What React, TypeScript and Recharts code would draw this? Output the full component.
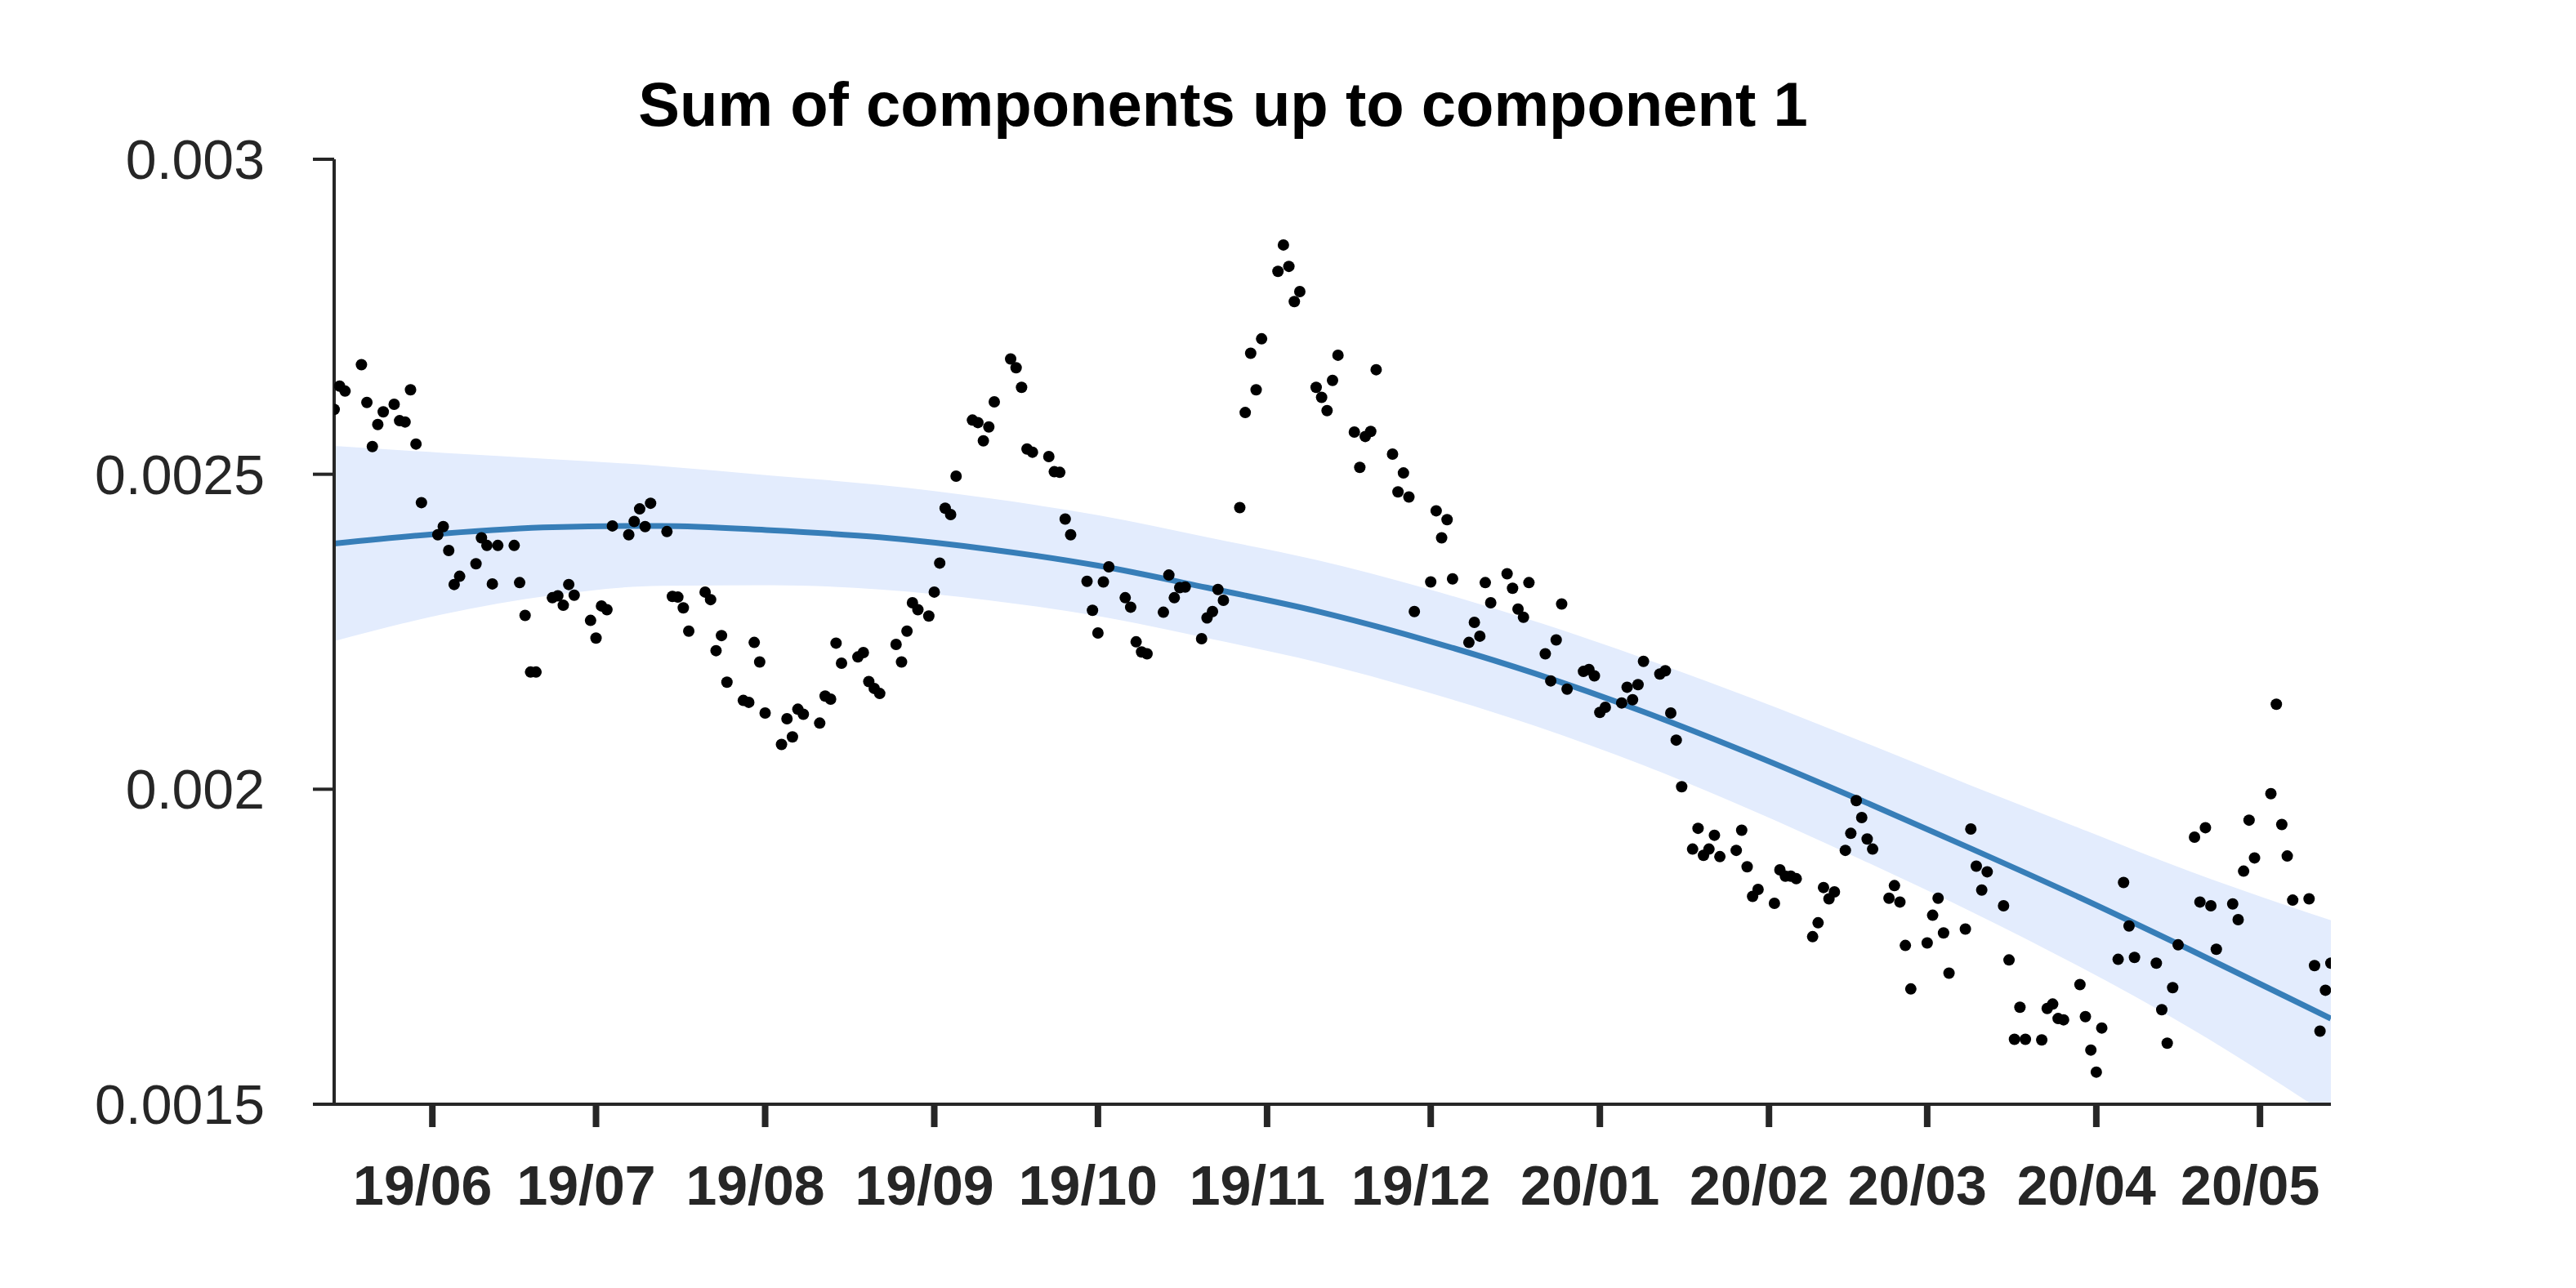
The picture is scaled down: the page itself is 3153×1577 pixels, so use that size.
import React from 'react';
import { ComposedChart, XAxis, YAxis, Area, Line, Scatter } from 'recharts';

const W = 3153;
const H = 1577;

// x = days since 2019-05-14
const monthTickDays = [18, 48, 79, 110, 140, 171, 201, 232, 263, 292, 323, 353];
const monthTickLabels = ['19/06', '19/07', '19/08', '19/09', '19/10', '19/11', '19/12', '20/01', '20/02', '20/03', '20/04', '20/05'];
const yTicks = [0.0015, 0.002, 0.0025, 0.003];

const pointDays = [
  0, 1, 2, 5, 6, 7, 8, 9, 11, 12, 13, 14, 15, 16, 19, 20, 21, 22, 23, 26, 27, 28, 29, 30,
  33, 34, 35, 36, 37, 40, 41, 42, 43, 44, 47, 48, 49, 50, 51, 54, 55, 56, 57, 58, 61,
  62, 63, 64, 65, 68, 69, 70, 71, 72, 75, 76, 77, 78, 79, 82, 83, 84, 85, 86, 89, 90, 91, 92, 93,
  96, 97, 98, 99, 100, 103, 104, 105, 106, 107, 109, 110, 111, 112, 113, 114, 117, 118, 119, 120, 121,
  124, 125, 126, 127, 128, 131, 132, 133, 134, 135, 138, 139, 140, 141, 142, 145, 146, 147, 148, 149,
  152, 153, 154, 155, 156, 159, 160, 161, 162, 163, 166, 167, 168, 169, 170, 173, 174, 175, 176, 177,
  180, 181, 182, 183, 184, 187, 188, 189, 190, 191, 194, 195, 196, 197, 198, 201, 202, 203, 204, 205,
  208, 209, 210, 211, 212, 215, 216, 217, 218, 219, 222, 223, 224, 225, 226, 229, 230, 231, 232, 233,
  236, 237, 238, 239, 240, 243, 244, 245, 246, 247, 249, 250, 251, 252, 253, 254, 257, 258, 259, 260, 261,
  264, 265, 266, 267, 268, 271, 272, 273, 274, 275, 277, 278, 279, 280, 281, 282, 285, 286, 287, 288, 289,
  292, 293, 294, 295, 296, 299, 300, 301, 302, 303, 306, 307, 308, 309, 310, 313, 314, 315, 316, 317,
  320, 321, 322, 323, 324, 327, 328, 329, 330, 334, 335, 336, 337, 338, 341, 342, 343, 344, 345,
  348, 349, 350, 351, 352, 355, 356, 357, 358, 359, 362, 363, 364, 365, 366,
];

const pointValues = [
  0.002603, 0.00264, 0.002632, 0.002674, 0.002614, 0.002544, 0.002579, 0.002599, 0.002611, 0.002585, 0.002583, 0.002634, 0.002548, 0.002455,
  0.002404, 0.002417, 0.002379, 0.002325, 0.002338, 0.002358, 0.002399, 0.002387, 0.002326, 0.002387,
  0.002387, 0.002328, 0.002276, 0.002186, 0.002186, 0.002304, 0.002307, 0.002292, 0.002325, 0.002308,
  0.002268, 0.00224, 0.002291, 0.002285, 0.002418, 0.002404, 0.002425, 0.002445, 0.002417, 0.002454, 0.002409,
  0.002306, 0.002305, 0.002288, 0.002251, 0.002313, 0.002301, 0.00222, 0.002244, 0.00217,
  0.002141, 0.002138, 0.002233, 0.002202, 0.002121, 0.002071, 0.002112, 0.002083, 0.002127, 0.002119,
  0.002105, 0.002148, 0.002143, 0.002232, 0.0022,
  0.00221, 0.002217, 0.002171, 0.00216, 0.002152, 0.00223, 0.002202, 0.002251, 0.002296, 0.002285,
  0.002275, 0.002313, 0.002359, 0.002446, 0.002436, 0.002497, 0.002586, 0.002582, 0.002553, 0.002575, 0.002615,
  0.002683, 0.002669, 0.002638, 0.00254, 0.002535, 0.002528, 0.002504, 0.002503, 0.002429, 0.002404,
  0.00233, 0.002284, 0.002248, 0.002329, 0.002353, 0.002304, 0.002289, 0.002234, 0.002218, 0.002215,
  0.002281, 0.00234, 0.002304, 0.00232, 0.002321, 0.002239, 0.002272, 0.002282, 0.002317, 0.0023,
  0.002447, 0.002598, 0.002692, 0.002634, 0.002715, 0.002822, 0.002864, 0.00283, 0.002774, 0.00279,
  0.002638, 0.002622, 0.002601, 0.002649, 0.002689, 0.002567, 0.002511, 0.00256, 0.002568, 0.002666,
  0.002532, 0.002472, 0.002502, 0.002464, 0.002282, 0.002329, 0.002442, 0.002399, 0.002428, 0.002334,
  0.002233, 0.002265, 0.002243, 0.002328, 0.002296, 0.002342, 0.002319, 0.002286, 0.002273, 0.002328,
  0.002215, 0.002172, 0.002237, 0.002294, 0.002159, 0.002187, 0.00219, 0.00218, 0.002122, 0.00213,
  0.002137, 0.002162, 0.002142, 0.002166, 0.002203, 0.002183, 0.002188, 0.002121, 0.002078, 0.002004,
  0.001905, 0.001938, 0.001895, 0.001905, 0.001927, 0.001893, 0.001903, 0.001935, 0.001877, 0.00183, 0.001841,
  0.001819, 0.001872, 0.001862, 0.001862, 0.001858, 0.001766, 0.001788, 0.001844, 0.001826, 0.001837,
  0.001903, 0.00193, 0.001982, 0.001955, 0.001921, 0.001905, 0.001827, 0.001847, 0.001821, 0.001752, 0.001683,
  0.001756, 0.0018, 0.001827, 0.001772, 0.001708, 0.001778, 0.001937, 0.001878, 0.00184, 0.001869,
  0.001815, 0.001729, 0.001603, 0.001654, 0.001603, 0.001602, 0.001652, 0.001659, 0.001636, 0.001634,
  0.00169, 0.001639, 0.001586, 0.001551, 0.001621, 0.00173, 0.001852, 0.001783, 0.001733,
  0.001724, 0.00165, 0.001597, 0.001685, 0.001753, 0.001924, 0.001821, 0.001939, 0.001815, 0.001746,
  0.001818, 0.001793, 0.00187, 0.001951, 0.001891, 0.001993, 0.002135, 0.001944, 0.001894, 0.001824,
  0.001826, 0.00172, 0.001616, 0.001681, 0.001724,
];

const trendDays = [0, 20, 40, 60, 80, 100, 120, 140, 160, 180, 200, 220, 240, 260, 280, 300, 320, 340, 366];
const trendValues = [0.00239, 0.002406, 0.002416, 0.002418, 0.002411, 0.0024, 0.002381, 0.002355, 0.00232, 0.002283, 0.002237, 0.002184, 0.002123, 0.002055, 0.001982, 0.001906, 0.001828, 0.001746, 0.001636];

const bandDays = [0, 20, 40, 60, 80, 100, 120, 140, 160, 180, 200, 220, 240, 260, 280, 300, 320, 340, 366];
const bandLow = [0.002235, 0.002278, 0.002308, 0.002323, 0.002324, 0.002317, 0.0023, 0.002275, 0.00224, 0.002202, 0.002155, 0.002101, 0.002038, 0.001966, 0.001888, 0.001806, 0.001718, 0.001622, 0.00148];
const bandHigh = [0.002545, 0.002534, 0.002524, 0.002513, 0.002498, 0.002483, 0.002462, 0.002435, 0.0024, 0.002364, 0.002319, 0.002267, 0.002208, 0.002144, 0.002076, 0.002006, 0.001938, 0.00187, 0.001792];

const points = pointDays.map((d, i) => ({ d, v: pointValues[i] }));
const trend = trendDays.map((d, i) => ({ d, v: trendValues[i] }));
const band = bandDays.map((d, i) => ({ d, range: [bandLow[i], bandHigh[i]] }));

const FONT = '"Liberation Sans", Arial, Helvetica, sans-serif';
const AXIS_COLOR = '#262626';

const XTick = (props: any) => {
  const { x, y, payload } = props;
  const idx = monthTickDays.indexOf(payload.value);
  return (
    <text x={x - 12} y={y + 95} textAnchor="middle" fontFamily={FONT} fontWeight="bold" fontSize={68} fill={AXIS_COLOR}>
      {idx >= 0 ? monthTickLabels[idx] : ''}
    </text>
  );
};

const YTick = (props: any) => {
  const { x, y, payload } = props;
  return (
    <text x={x - 59} y={y + 24} textAnchor="end" fontFamily={FONT} fontSize={68} fill={AXIS_COLOR}>
      {String(payload.value)}
    </text>
  );
};

const Dot = (props: any) => {
  const { cx, cy } = props;
  if (cx == null || cy == null) return null;
  return <circle cx={cx} cy={cy} r={7} fill="#000" />;
};

export default function App() {
  return (
    <div style={{ position: 'relative', width: W, height: H, background: '#fff' }}>
      <style>{'body{margin:0;}'}</style>
      <ComposedChart width={W} height={H} margin={{ top: 195, right: 300, bottom: 0, left: 0 }}>
        <XAxis
          type="number"
          dataKey="d"
          domain={[0, 366]}
          ticks={monthTickDays}
          interval={0}
          height={225}
          tickSize={28}
          tickMargin={0}
          axisLine={{ stroke: AXIS_COLOR, strokeWidth: 4 }}
          tickLine={{ stroke: AXIS_COLOR, strokeWidth: 8 }}
          tick={<XTick />}
          allowDataOverflow
        />
        <YAxis
          type="number"
          domain={[0.0015, 0.003]}
          ticks={yTicks}
          interval={0}
          width={409}
          tickSize={26}
          tickMargin={0}
          axisLine={{ stroke: AXIS_COLOR, strokeWidth: 4 }}
          tickLine={{ stroke: AXIS_COLOR, strokeWidth: 4 }}
          tick={<YTick />}
          allowDataOverflow
        />
        <Area
          data={band}
          dataKey="range"
          type="monotone"
          stroke="none"
          fill="#e3ecfd"
          fillOpacity={1}
          isAnimationActive={false}
          activeDot={false}
        />
        <Line
          data={trend}
          dataKey="v"
          type="monotone"
          stroke="#377eb8"
          strokeWidth={7}
          dot={false}
          activeDot={false}
          isAnimationActive={false}
        />
        <Scatter data={points} dataKey="v" shape={<Dot />} isAnimationActive={false} />
      </ComposedChart>
      <svg width={W} height={H} style={{ position: 'absolute', left: 0, top: 0, pointerEvents: 'none' }}>
        <text x={1497} y={154} textAnchor="middle" fontFamily={FONT} fontWeight="bold" fontSize={76} fill="#000">
          Sum of components up to component 1
        </text>
      </svg>
    </div>
  );
}
